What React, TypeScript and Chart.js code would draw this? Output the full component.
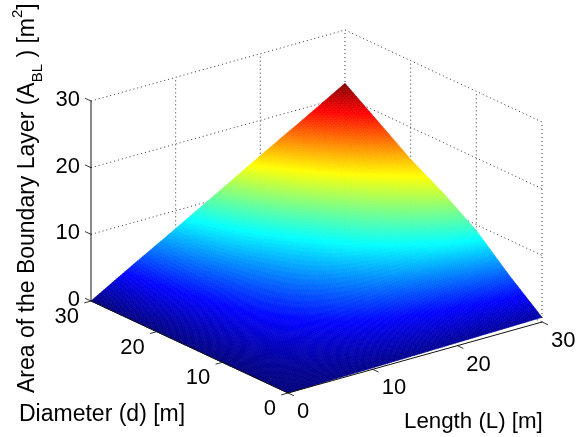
import React, { useEffect, useRef } from "react";
import { Chart, registerables } from "chart.js";

Chart.register(...registerables);

const FONT = '"Liberation Sans", Arial, sans-serif';

// Axis values
const lengthTicks = [0, 10, 20, 30];
const diameterTicks = [0, 10, 20, 30];
const areaTicks = [0, 10, 20, 30];

// Surface: one row per diameter, one column per length
const gridLength = [0, 5, 10, 15, 20, 25, 30];
const gridDiameter = [0, 5, 10, 15, 20, 25, 30];
const areaD0 = [0, 0.12, 0.23, 0.35, 0.47, 0.58, 0.7];
const areaD5 = [0, 0.8, 1.6, 2.4, 3.1, 3.9, 4.7];
const areaD10 = [0, 1.5, 3.0, 4.55, 6.1, 7.6, 9.1];
const areaD15 = [0, 2.1, 4.1, 6.2, 8.3, 10.3, 12.4];
const areaD20 = [0, 2.5, 5.1, 7.6, 10.1, 12.7, 15.2];
const areaD25 = [0, 3.1, 6.2, 9.3, 12.4, 15.5, 18.6];
const areaD30 = [0, 3.7, 7.3, 11, 14.7, 18.3, 22];
const areaRows = [areaD0, areaD5, areaD10, areaD15, areaD20, areaD25, areaD30];
const colorMax = 22;

// View of the 3-D box on the flat chart scales
const W = 576;
const H = 437;
const ORIGIN = { x: 288, y: 393 };
const PER_L = { x: 254 / 30, y: -71 / 30 };
const PER_D = { x: -197 / 30, y: -92 / 30 };
const PER_Z = { x: 0, y: -200 / 30 };

function project(L: number, d: number, z: number) {
  return {
    x: ORIGIN.x + PER_L.x * L + PER_D.x * d + PER_Z.x * z,
    y: ORIGIN.y + PER_L.y * L + PER_D.y * d + PER_Z.y * z,
  };
}

function jet(v: number) {
  const t = Math.max(0, Math.min(1, v));
  const ramp = (c: number) => Math.max(0, Math.min(1, 1.5 - Math.abs(4 * t - c)));
  const r = ramp(3);
  const g = ramp(2);
  const b = ramp(1);
  return `rgb(${Math.round(r * 255)},${Math.round(g * 255)},${Math.round(b * 255)})`;
}

function segs(list: [number, number, number][][]) {
  const out: any[] = [];
  list.forEach((seg) => {
    seg.forEach((p) => out.push(project(p[0], p[1], p[2])));
    out.push({ x: NaN, y: NaN });
  });
  return out;
}

const wallLines: [number, number, number][][] = [
  ...areaTicks.map((z) => [[0, 30, z], [30, 30, z]] as [number, number, number][]),
  ...areaTicks.map((z) => [[30, 30, z], [30, 0, z]] as [number, number, number][]),
  ...lengthTicks.slice(1).map((L) => [[L, 30, 0], [L, 30, 30]] as [number, number, number][]),
  ...diameterTicks.slice(0, 3).map((d) => [[30, d, 0], [30, d, 30]] as [number, number, number][]),
];

const axisLines: [number, number, number][][] = [
  [[0, 0, 0], [30, 0, 0]],
  [[0, 0, 0], [0, 30, 0]],
  [[0, 30, 0], [0, 30, 30]],
];

const tickLines: [number, number, number][][] = [
  ...lengthTicks.map((L) => [[L, 0, 0], [L, -0.9, 0]] as [number, number, number][]),
  ...diameterTicks.map((d) => [[0, d, 0], [-0.8, d, 0]] as [number, number, number][]),
  ...areaTicks.map((z) => [[0, 30, z], [0, 30.9, z]] as [number, number, number][]),
];

const surfacePoints = gridDiameter.flatMap((d, i) =>
  gridLength.map((L, j) => project(L, d, areaRows[i][j]))
);

const surfacePainter = {
  id: "surfacePainter",
  beforeDatasetDraw(chart: any, args: any) {
    if (args.index !== 1) return;
    const { ctx, scales } = chart;
    const SUB = 20;
    const put = (L: number, d: number, z: number) => {
      const p = project(L, d, z);
      return [scales.x.getPixelForValue(p.x), scales.y.getPixelForValue(p.y)];
    };
    const corner = (i: number, j: number, u: number, v: number) => {
      const r0 = areaRows[i];
      const r1 = areaRows[i + 1];
      const z =
        r0[j] * (1 - u) * (1 - v) + r0[j + 1] * u * (1 - v) + r1[j] * (1 - u) * v + r1[j + 1] * u * v;
      const L = gridLength[j] + (gridLength[j + 1] - gridLength[j]) * u;
      const d = gridDiameter[i] + (gridDiameter[i + 1] - gridDiameter[i]) * v;
      return { L, d, z };
    };
    ctx.save();
    ctx.lineWidth = 0.6;
    for (let i = gridDiameter.length - 2; i >= 0; i--) {
      for (let j = gridLength.length - 2; j >= 0; j--) {
        for (let a = SUB - 1; a >= 0; a--) {
          for (let b = SUB - 1; b >= 0; b--) {
            const c = [
              corner(i, j, a / SUB, b / SUB),
              corner(i, j, (a + 1) / SUB, b / SUB),
              corner(i, j, (a + 1) / SUB, (b + 1) / SUB),
              corner(i, j, a / SUB, (b + 1) / SUB),
            ];
            const mean = (c[0].z + c[1].z + c[2].z + c[3].z) / 4;
            const col = jet(mean / colorMax);
            ctx.fillStyle = col;
            ctx.strokeStyle = col;
            ctx.beginPath();
            c.forEach((q, n) => {
              const [x, y] = put(q.L, q.d, q.z);
              if (n === 0) ctx.moveTo(x, y);
              else ctx.lineTo(x, y);
            });
            ctx.closePath();
            ctx.fill();
            ctx.stroke();
          }
        }
      }
    }
    ctx.restore();
  },
};

const textPainter = {
  id: "textPainter",
  afterDraw(chart: any) {
    const { ctx, scales } = chart;
    const px = (p: { x: number; y: number }) => [
      scales.x.getPixelForValue(p.x),
      scales.y.getPixelForValue(p.y),
    ];
    ctx.save();
    ctx.fillStyle = "#000";
    ctx.textBaseline = "middle";
    ctx.font = `22px ${FONT}`;
    ctx.textAlign = "right";
    areaTicks.forEach((z) => {
      const [x, y] = px(project(0, 30, z));
      ctx.fillText(String(z), x - 11, y - 1);
    });
    diameterTicks.forEach((d) => {
      const [x, y] = px(project(0, d, 0));
      ctx.fillText(String(d), x - 12, y + 16);
    });
    ctx.textAlign = "left";
    lengthTicks.forEach((L) => {
      const [x, y] = px(project(L, 0, 0));
      ctx.fillText(String(L), x + 9, y + 19);
    });
    ctx.font = `22.3px ${FONT}`;
    ctx.textAlign = "left";
    ctx.fillText("Length (L) [m]", 404, 422);
    ctx.font = `23px ${FONT}`;
    ctx.fillText("Diameter (d) [m]", 19, 415);

    ctx.translate(28, 393);
    ctx.rotate(-Math.PI / 2);
    const parts: [string, number, number][] = [
      ["Area of the Boundary Layer (A", 23, 0],
      ["BL", 15, 10],
      [" ) [m", 23, 0],
      ["2", 15, -10],
      ["]", 23, 0],
    ];
    let cx = 0;
    parts.forEach(([s, size, dy]) => {
      ctx.font = `${size}px ${FONT}`;
      ctx.fillText(s, cx, dy);
      cx += ctx.measureText(s).width;
    });
    ctx.restore();
  },
};

export default function App() {
  const ref = useRef<HTMLCanvasElement | null>(null);
  useEffect(() => {
    document.body.style.margin = "0";
    const chart = new Chart(ref.current as HTMLCanvasElement, {
      type: "scatter",
      data: {
        datasets: [
          {
            label: "Walls",
            data: segs(wallLines),
            showLine: true,
            spanGaps: false,
            borderColor: "#333",
            borderWidth: 1,
            borderDash: [1, 3],
            pointRadius: 0,
            order: 3,
          },
          {
            label: "Area of the Boundary Layer",
            data: surfacePoints,
            pointRadius: 0,
            order: 2,
          },
          {
            label: "Axes",
            data: segs(axisLines),
            showLine: true,
            spanGaps: false,
            borderColor: "#111",
            borderWidth: 1,
            pointRadius: 0,
            order: 1,
          },
          {
            label: "Ticks",
            data: segs(tickLines),
            showLine: true,
            spanGaps: false,
            borderColor: "#333",
            borderWidth: 1,
            pointRadius: 0,
            order: 1,
          },
        ],
      },
      options: {
        animation: false,
        responsive: false,
        layout: { padding: 0 },
        plugins: { legend: { display: false }, tooltip: { enabled: false }, title: { display: false } },
        scales: {
          x: { type: "linear", min: 0, max: W, display: false },
          y: { type: "linear", min: 0, max: H, reverse: true, display: false },
        },
      },
      plugins: [surfacePainter, textPainter],
    } as any);
    return () => chart.destroy();
  }, []);
  return <canvas ref={ref} width={W} height={H} style={{ display: "block" }} />;
}
